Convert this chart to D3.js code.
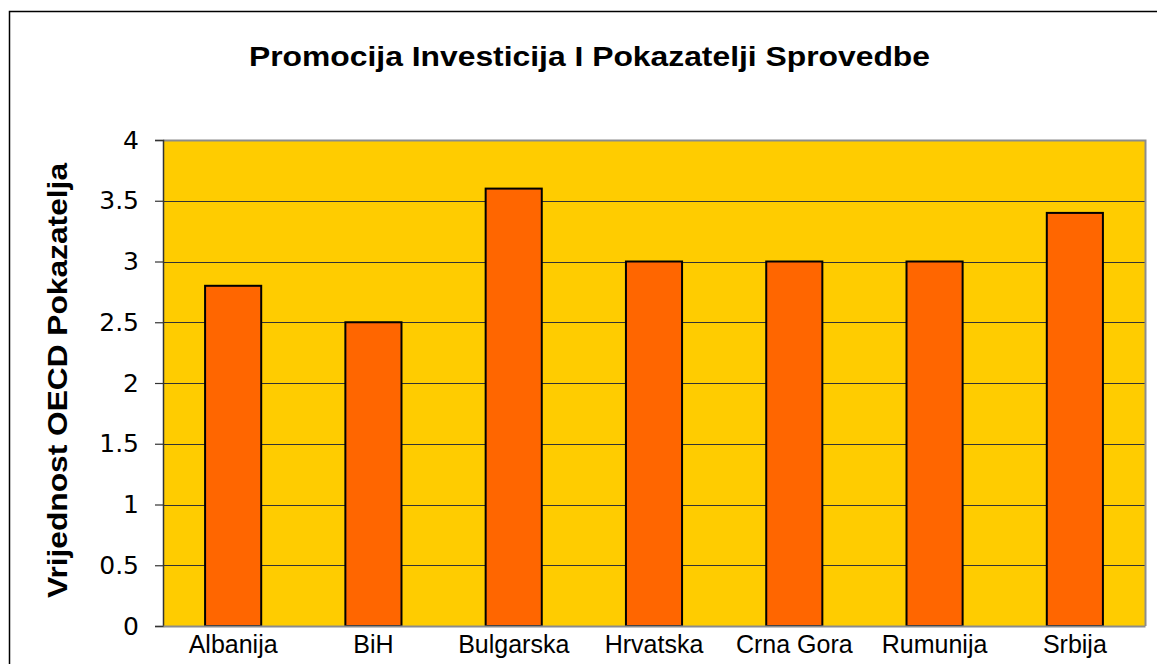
<!DOCTYPE html>
<html>
<head>
<meta charset="utf-8">
<script src="https://cdn.jsdelivr.net/npm/d3@7"></script>
<style>
  html, body { margin: 0; padding: 0; background: #fff; }
  svg { display: block; }
</style>
</head>
<body>
<svg id="chart" width="1157" height="664"></svg>
<script>
const categories = ["Albanija", "BiH", "Bulgarska", "Hrvatska", "Crna Gora", "Rumunija", "Srbija"];
const values = [2.8, 2.5, 3.6, 3.0, 3.0, 3.0, 3.4];
const yTicks = [0, 0.5, 1, 1.5, 2, 2.5, 3, 3.5, 4];
const yTickLabels = ["0", "0.5", "1", "1.5", "2", "2.5", "3", "3.5", "4"];
const titleText = "Promocija Investicija I Pokazatelji Sprovedbe";
const yTitleText = "Vrijednost OECD Pokazatelja";

const svg = d3.select("#chart");
const plot = { left: 163, top: 140, right: 1145, bottom: 626 };

// outer frame (extends past the view on right/bottom)
svg.append("rect")
  .attr("x", 9.5).attr("y", 11.5)
  .attr("width", 1170).attr("height", 700)
  .attr("fill", "#fff").attr("stroke", "#000").attr("stroke-width", 1.5);

const x = d3.scaleBand().domain(categories).range([plot.left, plot.right]).padding(0);
const y = d3.scaleLinear().domain([0, 4]).range([plot.bottom, plot.top]);

// plot background
svg.append("rect")
  .attr("x", plot.left).attr("y", plot.top)
  .attr("width", plot.right - plot.left).attr("height", plot.bottom - plot.top)
  .attr("fill", "#FFCC00");

// gridlines
svg.append("g").selectAll("line")
  .data(yTicks.filter(d => d > 0 && d < 4))
  .join("line")
  .attr("x1", plot.left).attr("x2", plot.right)
  .attr("y1", d => Math.round(y(d)) + 0.5).attr("y2", d => Math.round(y(d)) + 0.5)
  .attr("stroke", "#333").attr("stroke-width", 1.2);

// plot border top/right (gray)
svg.append("path")
  .attr("d", `M${plot.left},${plot.top + 0.5}H${plot.right + 0.5}V${plot.bottom}`)
  .attr("fill", "none").attr("stroke", "#8c8c8c").attr("stroke-width", 2);

// bars
const barFrac = 0.4;
svg.append("g").selectAll("rect")
  .data(categories.map((c, i) => ({ c, v: values[i] })))
  .join("rect")
  .attr("x", d => x(d.c) + x.bandwidth() * (1 - barFrac) / 2)
  .attr("width", x.bandwidth() * barFrac)
  .attr("y", d => y(d.v))
  .attr("height", d => y(0) - y(d.v))
  .attr("fill", "#FF6600").attr("stroke", "#000").attr("stroke-width", 2);

// y axis
const yAxis = d3.axisLeft(y).tickValues(yTicks)
  .tickFormat((d, i) => yTickLabels[i]).tickSize(8).tickPadding(16);
const gy = svg.append("g").attr("transform", `translate(${plot.left},0)`).call(yAxis);
gy.select(".domain").attr("stroke", "#333").attr("stroke-width", 1.5);
gy.selectAll(".tick line").attr("stroke", "#333").attr("stroke-width", 1.2);
gy.selectAll(".tick text")
  .attr("font-family", "'DejaVu Sans', Verdana, sans-serif")
  .attr("font-size", 25).attr("fill", "#000");

// x axis
const xAxis = d3.axisBottom(x).tickSize(0).tickPadding(9);
const gx = svg.append("g").attr("transform", `translate(0,${plot.bottom})`).call(xAxis);
gx.select(".domain").attr("stroke", "#8c8c8c").attr("stroke-width", 2);
gx.selectAll(".tick text")
  .attr("font-family", "'Liberation Sans', Arial, sans-serif")
  .attr("font-size", 25).attr("fill", "#000");

// title
svg.append("text")
  .attr("x", 589.5).attr("y", 66)
  .attr("text-anchor", "middle")
  .attr("font-family", "'Liberation Sans', Arial, sans-serif")
  .attr("font-weight", "bold").attr("font-size", 28)
  .attr("textLength", 681).attr("lengthAdjust", "spacingAndGlyphs")
  .text(titleText);

// y title
svg.append("text")
  .attr("transform", `translate(67,380.5) rotate(-90)`)
  .attr("text-anchor", "middle")
  .attr("font-family", "'Liberation Sans', Arial, sans-serif")
  .attr("font-weight", "bold").attr("font-size", 28)
  .attr("textLength", 435).attr("lengthAdjust", "spacingAndGlyphs")
  .text(yTitleText);
</script>
</body>
</html>
